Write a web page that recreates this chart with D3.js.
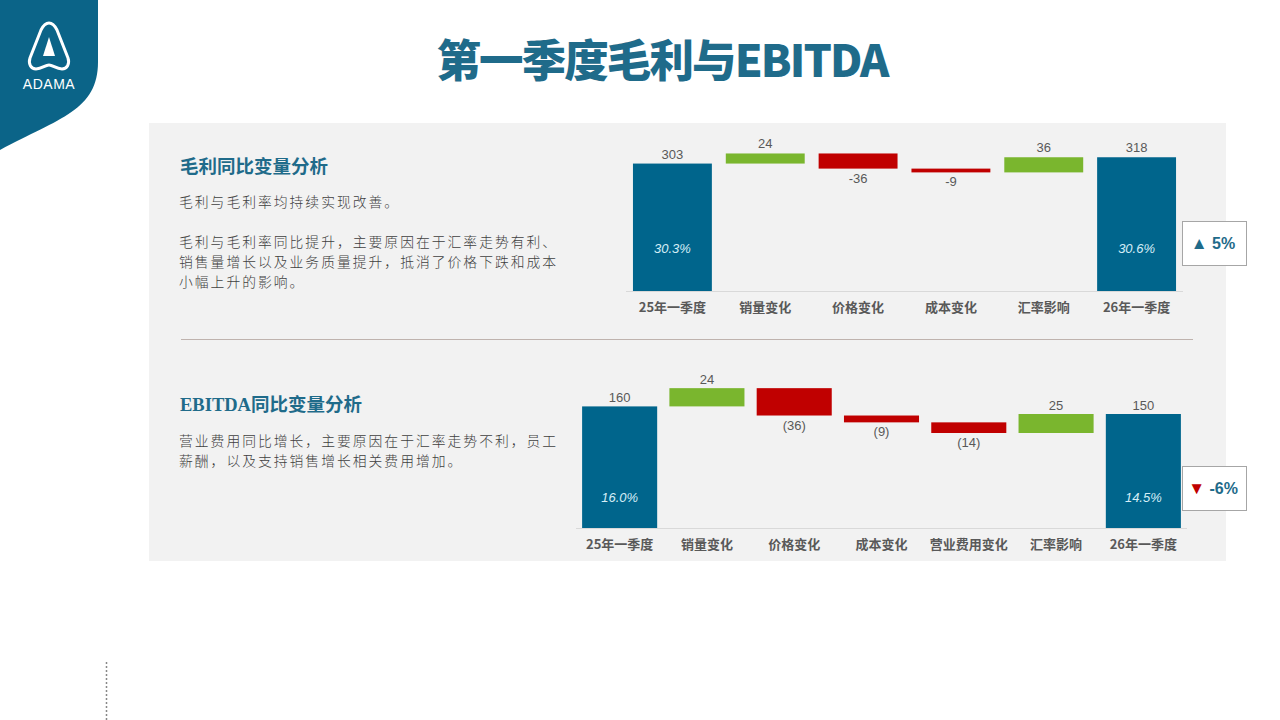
<!DOCTYPE html>
<html><head><meta charset="utf-8">
<script src="https://cdn.jsdelivr.net/npm/d3@7"></script>
<style>
html,body{margin:0;padding:0;background:#fff;}
svg{display:block;}
</style></head>
<body>
<svg id="c" width="1280" height="720"></svg>
<script>
// ---- data ----
const gpCategories = ["25年一季度","销量变化","价格变化","成本变化","汇率影响","26年一季度"];
const gpValues = [303, 24, -36, -9, 36, 318];
const gpKinds = ["total","delta","delta","delta","delta","total"];
const gpValueLabels = ["303","24","-36","-9","36","318"];
const gpMarginLabels = ["30.3%","","","","","30.6%"];

const ebCategories = ["25年一季度","销量变化","价格变化","成本变化","营业费用变化","汇率影响","26年一季度"];
const ebValues = [160, 24, -36, -9, -14, 25, 150];
const ebKinds = ["total","delta","delta","delta","delta","delta","total"];
const ebValueLabels = ["160","24","(36)","(9)","(14)","25","150"];
const ebMarginLabels = ["16.0%","","","","","","14.5%"];

const gpChange = "5%";
const ebChange = "-6%";

const svg = d3.select("#c");
const BLUE = "#00658c", GREEN = "#7ab62e", RED = "#c00000", TXT = "#595959", HEAD = "#1f6b8a";
const CJK = "'Noto Sans CJK SC','Noto Sans',sans-serif";

// logo shape
svg.append("path")
  .attr("d","M0,0 L98,0 L98,62 C98,110 60,118 0,150 Z")
  .attr("fill","#0b6488");
svg.append("path")
  .attr("d","M49,23 C45,23 43,26 41,30 L30,58 C28,64 31,69 36,69 C42,69 45,65 49,65 C53,65 56,69 62,69 C67,69 70,64 68,58 L57,30 C55,26 53,23 49,23 Z")
  .attr("fill","none").attr("stroke","#fff").attr("stroke-width",3);
svg.append("path")
  .attr("d","M49,37 L43,56 L55,56 Z").attr("fill","#fff");
svg.append("text").attr("x",49).attr("y",89).attr("text-anchor","middle")
  .attr("fill","#fff").attr("font-family","'Liberation Sans',Arial,sans-serif")
  .attr("font-size",14).attr("letter-spacing",0.5).text("ADAMA");

// title
svg.append("text").attr("x",662).attr("y",77).attr("text-anchor","middle")
  .attr("fill",HEAD).attr("font-family",CJK).attr("font-weight",900)
  .attr("font-size",44.5).attr("letter-spacing",-1.9).text("第一季度毛利与EBITDA");

// panel
svg.append("rect").attr("x",149).attr("y",123).attr("width",1077).attr("height",438).attr("fill","#f2f2f2");
svg.append("line").attr("x1",181).attr("x2",1193).attr("y1",339.5).attr("y2",339.5)
  .attr("stroke","#bfb3ae").attr("stroke-width",1);

// dotted vertical line
svg.append("line").attr("x1",106.5).attr("x2",106.5).attr("y1",662).attr("y2",720)
  .attr("stroke","#888").attr("stroke-width",1.5).attr("stroke-dasharray","2,2");

// texts
function heading(x,y,t){
  svg.append("text").attr("x",x).attr("y",y).attr("fill",HEAD)
    .attr("font-family","'Liberation Serif','Noto Sans CJK SC',serif").attr("font-weight","bold")
    .attr("font-size",18.5).text(t);
}
function body(x,y,lines){
  const t = svg.append("text").attr("fill","#404040").attr("font-family",CJK).attr("font-size",13.8)
    .attr("letter-spacing",2).attr("font-weight",300);
  lines.forEach((l,i)=>{ if(l) t.append("tspan").attr("x",x).attr("y",y+i*20).text(l); });
}
heading(180,173,"毛利同比变量分析");
body(179,207,["毛利与毛利率均持续实现改善。","","毛利与毛利率同比提升，主要原因在于汇率走势有利、","销售量增长以及业务质量提升，抵消了价格下跌和成本","小幅上升的影响。"]);
heading(180,411,"EBITDA同比变量分析");
body(179,446,["营业费用同比增长，主要原因在于汇率走势不利，员工","薪酬，以及支持销售增长相关费用增加。"]);

// waterfall
function waterfall(o){
  const g = svg.append("g");
  const x = d3.scaleBand().domain(o.cats).range(o.xr).paddingInner(o.pad).paddingOuter(o.pad/2);
  const y = d3.scaleLinear().domain(o.yd).range(o.yr);
  let run = 0;
  const rows = o.vals.map((v,i)=>{
    let a,b;
    if(o.kinds[i]==="total"){ a=0; b=v; run=v; }
    else { a=run; b=run+v; run=b; }
    return {cat:o.cats[i], v, a, b, kind:o.kinds[i], lab:o.labs[i], m:o.margins[i]};
  });
  const ax = g.append("g").attr("transform",`translate(0,${o.yr[0]})`)
    .call(d3.axisBottom(x).tickSize(0).tickPadding(o.tickPad));
  ax.select(".domain").attr("stroke","#d9d9d9").attr("d",`M${o.xr[0]},0.5H${o.xr[1]}`);
  ax.selectAll("text").attr("fill",TXT).attr("font-family",CJK).attr("font-weight","bold").attr("font-size",13);
  g.selectAll("rect.bar").data(rows).join("rect").attr("class","bar")
    .attr("x",d=>x(d.cat)).attr("width",x.bandwidth())
    .attr("y",d=>y(Math.max(d.a,d.b))).attr("height",d=>Math.abs(y(d.a)-y(d.b)))
    .attr("fill",d=>d.kind==="total"?BLUE:(d.v>=0?GREEN:RED));
  g.selectAll("text.val").data(rows).join("text").attr("class","val")
    .attr("x",d=>x(d.cat)+x.bandwidth()/2).attr("text-anchor","middle")
    .attr("y",d=> d.v>=0 ? y(Math.max(d.a,d.b))-o.above : y(Math.min(d.a,d.b))+o.below)
    .attr("fill",TXT).attr("font-family",o.valFont).attr("font-size",o.valSize).text(d=>d.lab);
  g.selectAll("text.m").data(rows.filter(d=>d.m)).join("text").attr("class","m")
    .attr("x",d=>x(d.cat)+x.bandwidth()/2).attr("text-anchor","middle")
    .attr("y",o.yr[0]-o.mOff).attr("fill","#d6eef7").attr("font-style","italic")
    .attr("font-family",o.valFont).attr("font-size",o.valSize).text(d=>d.m);
}
waterfall({cats:gpCategories, vals:gpValues, kinds:gpKinds, labs:gpValueLabels, margins:gpMarginLabels,
  xr:[626,1183], pad:0.15, yd:[0,340], yr:[291,148], tickPad:12, above:5, below:14,
  valFont:"'Liberation Sans',Arial,sans-serif", valSize:13, mOff:38});
waterfall({cats:ebCategories, vals:ebValues, kinds:ebKinds, labs:ebValueLabels, margins:ebMarginLabels,
  xr:[576,1187], pad:0.14, yd:[0,200], yr:[528,376], tickPad:12, above:4, below:14,
  valFont:"'Liberation Sans Narrow','Liberation Sans',Arial,sans-serif", valSize:13, mOff:26});

// change badges
function badge(yTop, up, txt){
  svg.append("rect").attr("x",1182.5).attr("y",yTop+0.5).attr("width",64).attr("height",44)
    .attr("fill","#fff").attr("stroke","#a6a6a6");
  const t = svg.append("text").attr("x",1213).attr("y",yTop+28).attr("text-anchor","middle")
    .attr("font-family","'Liberation Sans Narrow','Liberation Sans',Arial,sans-serif")
    .attr("font-weight","bold").attr("font-size",16);
  t.append("tspan").attr("fill",up?HEAD:RED).attr("font-size",17).text(up?"▲":"▼");
  t.append("tspan").attr("fill",HEAD).text(" "+txt);
}
badge(221, true, gpChange);
badge(466, false, ebChange);
</script>
</body></html>
